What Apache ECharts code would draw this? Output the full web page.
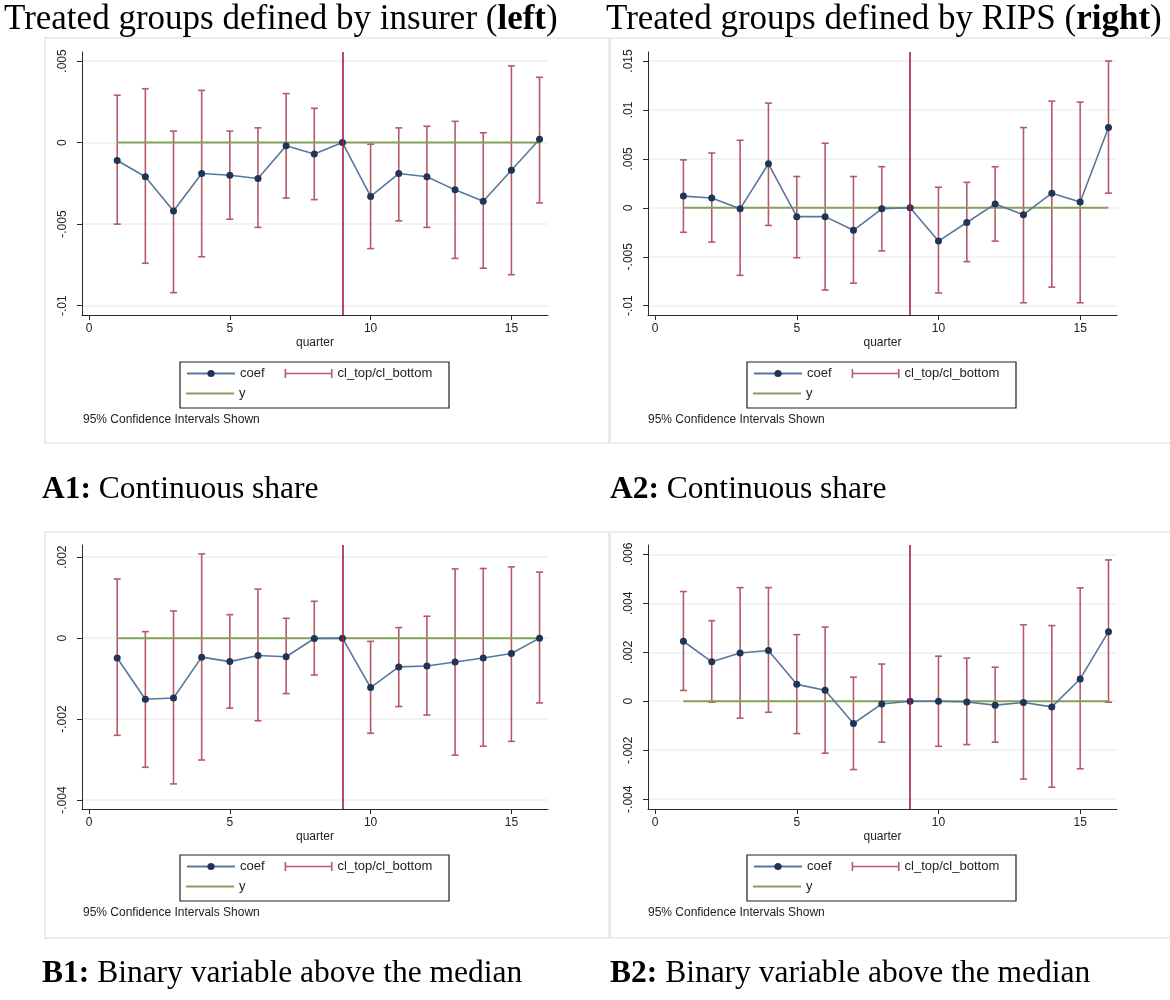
<!DOCTYPE html>
<html>
<head>
<meta charset="utf-8">
<script src="https://cdn.jsdelivr.net/npm/echarts@6/dist/echarts.min.js"></script>
<style>
  html, body { margin: 0; padding: 0; background: #ffffff; }
  #chart { width: 1170px; height: 1000px; }
</style>
</head>
<body>
<div id="chart"></div>
<script>
// Event-study coefficients by quarter, with 95% confidence bounds (quarter 9 is the reference period)
const quarters = [1, 2, 3, 4, 5, 6, 7, 8, 9, 10, 11, 12, 13, 14, 15, 16];
const yZero = [0, 0, 0, 0, 0, 0, 0, 0, 0, 0, 0, 0, 0, 0, 0, 0];
const eventQuarter = 9;

// A1: continuous share, treated groups defined by insurer
const a1Coef   = [-0.0011, -0.0021, -0.0042, -0.0019, -0.0020, -0.0022, -0.0002, -0.0007, 0, -0.0033, -0.0019, -0.0021, -0.0029, -0.0036, -0.0017, 0.0002];
const a1Top    = [0.0029, 0.0033, 0.0007, 0.0032, 0.0007, 0.0009, 0.0030, 0.0021, null, -0.0001, 0.0009, 0.0010, 0.0013, 0.0006, 0.0047, 0.0040];
const a1Bottom = [-0.0050, -0.0074, -0.0092, -0.0070, -0.0047, -0.0052, -0.0034, -0.0035, null, -0.0065, -0.0048, -0.0052, -0.0071, -0.0077, -0.0081, -0.0037];

// A2: continuous share, treated groups defined by RIPS
const a2Coef   = [0.0012, 0.0010, -0.0001, 0.0045, -0.0009, -0.0009, -0.0023, -0.0001, 0, -0.0034, -0.0015, 0.0004, -0.0007, 0.0015, 0.0006, 0.0082];
const a2Top    = [0.0049, 0.0056, 0.0069, 0.0107, 0.0032, 0.0066, 0.0032, 0.0042, null, 0.0021, 0.0026, 0.0042, 0.0082, 0.0109, 0.0108, 0.0150];
const a2Bottom = [-0.0025, -0.0035, -0.0069, -0.0018, -0.0051, -0.0084, -0.0077, -0.0044, null, -0.0087, -0.0055, -0.0034, -0.0097, -0.0081, -0.0097, 0.0015];

// B1: binary variable above the median, insurer
const b1Coef   = [-0.00049, -0.00151, -0.00148, -0.00047, -0.00058, -0.00043, -0.00046, -0.00001, 0, -0.00122, -0.00071, -0.00069, -0.00059, -0.00049, -0.00038, 0];
const b1Top    = [0.00146, 0.00016, 0.00067, 0.00208, 0.00058, 0.00121, 0.00049, 0.00091, null, -0.00008, 0.00026, 0.00054, 0.00171, 0.00172, 0.00176, 0.00163];
const b1Bottom = [-0.00240, -0.00319, -0.00360, -0.00301, -0.00173, -0.00204, -0.00137, -0.00091, null, -0.00235, -0.00169, -0.00190, -0.00289, -0.00267, -0.00255, -0.00160];

// B2: binary variable above the median, RIPS
const b2Coef   = [0.00245, 0.00161, 0.00197, 0.00207, 0.00069, 0.00045, -0.00091, -0.00011, 0, 0, -0.00003, -0.00016, -0.00005, -0.00023, 0.00091, 0.00284];
const b2Top    = [0.00448, 0.00329, 0.00464, 0.00464, 0.00272, 0.00303, 0.00098, 0.00152, null, 0.00184, 0.00176, 0.00139, 0.00312, 0.00309, 0.00463, 0.00577];
const b2Bottom = [0.00044, -0.00004, -0.00069, -0.00045, -0.00132, -0.00212, -0.00279, -0.00167, null, -0.00184, -0.00177, -0.00167, -0.00318, -0.00351, -0.00276, -0.00004];

// Axis ticks and their printed labels
const xTicks = [0, 5, 10, 15];
const xTickLabels = ['0', '5', '10', '15'];
const a1YTicks = [-0.01, -0.005, 0, 0.005];
const a1YLabels = ['-.01', '-.005', '0', '.005'];
const a2YTicks = [-0.01, -0.005, 0, 0.005, 0.01, 0.015];
const a2YLabels = ['-.01', '-.005', '0', '.005', '.01', '.015'];
const b1YTicks = [-0.004, -0.002, 0, 0.002];
const b1YLabels = ['-.004', '-.002', '0', '.002'];
const b2YTicks = [-0.004, -0.002, 0, 0.002, 0.004, 0.006];
const b2YLabels = ['-.004', '-.002', '0', '.002', '.004', '.006'];

// Titles and captions
const headLeft = ['Treated groups defined by insurer (', 'left', ')'];
const headRight = ['Treated groups defined by RIPS (', 'right', ')'];
const captions = [
  ['A1:', ' Continuous share'],
  ['A2:', ' Continuous share'],
  ['B1:', ' Binary variable above the median'],
  ['B2:', ' Binary variable above the median']
];
const noteText = '95% Confidence Intervals Shown';
const legendNames = ['coef', 'cl_top/cl_bottom', 'y'];

// ---- styling ----
const SANS = '"Liberation Sans", Arial, sans-serif';
const SERIF = '"Liberation Serif", "Times New Roman", serif';
const COEF_LINE = '#58779a';
const COEF_DOT = '#1f3558';
const CI_COLOR = '#b65a66';
const ZERO_COLOR = '#85a05c';
const EVENT_COLOR = '#a81c48';
const AXIS_COLOR = '#2a2a2a';
const GRID_COLOR = '#edf1f3';

// Panel layout: plot area, y range, legend and frame positions
const panels = [
  { coef: a1Coef, top: a1Top, bottom: a1Bottom, yTicks: a1YTicks, yLabels: a1YLabels,
    yMin: -0.01057, yMax: 0.00555, grid: { left: 82, top: 52, width: 466, height: 263 },
    frame: [45, 38, 564, 405], legend: [180, 362], note: [83, 414] },
  { coef: a2Coef, top: a2Top, bottom: a2Bottom, yTicks: a2YTicks, yLabels: a2YLabels,
    yMin: -0.01095, yMax: 0.01592, grid: { left: 648, top: 52, width: 469, height: 263 },
    frame: [610, 38, 562, 405], legend: [747, 362], note: [648, 414] },
  { coef: b1Coef, top: b1Top, bottom: b1Bottom, yTicks: b1YTicks, yLabels: b1YLabels,
    yMin: -0.00422, yMax: 0.0023, grid: { left: 82, top: 545, width: 466, height: 264 },
    frame: [45, 532, 564, 406], legend: [180, 855], note: [83, 907] },
  { coef: b2Coef, top: b2Top, bottom: b2Bottom, yTicks: b2YTicks, yLabels: b2YLabels,
    yMin: -0.0044, yMax: 0.00638, grid: { left: 648, top: 545, width: 469, height: 264 },
    frame: [610, 532, 562, 406], legend: [747, 855], note: [648, 907] }
];

function tickLabel(ticks, labels) {
  return function (v) {
    for (let i = 0; i < ticks.length; i++) {
      if (Math.abs(ticks[i] - v) < 1e-9) return labels[i];
    }
    return '';
  };
}

// Range cap (rcap): vertical whisker with horizontal caps at both ends
function renderCap(params, api) {
  const x = api.value(0);
  const hi = api.coord([x, api.value(1)]);
  const lo = api.coord([x, api.value(2)]);
  const half = 3.5;
  const style = { stroke: CI_COLOR, lineWidth: 1.6, fill: null };
  return {
    type: 'group',
    children: [
      { type: 'line', shape: { x1: hi[0], y1: hi[1], x2: lo[0], y2: lo[1] }, style: style },
      { type: 'line', shape: { x1: hi[0] - half, y1: hi[1], x2: hi[0] + half, y2: hi[1] }, style: style },
      { type: 'line', shape: { x1: lo[0] - half, y1: lo[1], x2: lo[0] + half, y2: lo[1] }, style: style }
    ]
  };
}

const legendText = { fontFamily: SANS, fontSize: 13, color: '#222' };
const CI_ICON = 'path://M0,0h1.6v9h-1.6z M0,3.7h48v1.6h-48z M46.4,0h1.6v9h-1.6z';
const ZERO_ICON = 'path://M0,3.5h48v2h-48z';

const grids = [], xAxes = [], yAxes = [], series = [], legends = [], graphics = [];

panels.forEach(function (p, i) {
  grids.push(Object.assign({ containLabel: false }, p.grid));

  xAxes.push({
    type: 'value', gridIndex: i, min: -0.25, max: 16.3,
    name: 'quarter', nameLocation: 'middle', nameGap: 22,
    nameTextStyle: { fontFamily: SANS, fontSize: 12, color: '#222' },
    axisLine: { show: true, onZero: false, lineStyle: { color: AXIS_COLOR, width: 1 } },
    axisTick: { show: true, length: 5, customValues: xTicks, lineStyle: { color: AXIS_COLOR } },
    axisLabel: { customValues: xTicks, margin: 8, fontFamily: SANS, fontSize: 12, color: '#222',
                 formatter: tickLabel(xTicks, xTickLabels) },
    splitLine: { show: false }
  });

  yAxes.push({
    type: 'value', gridIndex: i, min: p.yMin, max: p.yMax,
    axisLine: { show: true, onZero: false, lineStyle: { color: AXIS_COLOR, width: 1 } },
    axisTick: { show: true, length: 5, customValues: p.yTicks, lineStyle: { color: AXIS_COLOR } },
    axisLabel: { customValues: p.yTicks, rotate: 90, margin: 13, fontFamily: SANS, fontSize: 12, color: '#222',
                 formatter: tickLabel(p.yTicks, p.yLabels) },
    splitLine: { show: true, lineStyle: { color: GRID_COLOR, width: 1.5 } }
  });

  // confidence interval caps
  const ciData = [];
  quarters.forEach(function (q, k) {
    if (p.top[k] !== null && p.bottom[k] !== null) ciData.push([q, p.top[k], p.bottom[k]]);
  });
  series.push({
    name: legendNames[1], type: 'custom', xAxisIndex: i, yAxisIndex: i,
    renderItem: renderCap, data: ciData, encode: { x: 0, y: [1, 2] },
    itemStyle: { color: CI_COLOR }, z: 2, silent: true
  });

  // zero reference line, plus the event-quarter marker
  series.push({
    name: legendNames[2], type: 'line', xAxisIndex: i, yAxisIndex: i,
    data: quarters.map(function (q, k) { return [q, yZero[k]]; }),
    symbol: 'none', lineStyle: { color: ZERO_COLOR, width: 2 }, itemStyle: { color: ZERO_COLOR },
    z: 3, silent: true,
    markLine: {
      silent: true, symbol: 'none', label: { show: false },
      lineStyle: { color: EVENT_COLOR, width: 1.6, type: 'solid' },
      data: [{ xAxis: eventQuarter }]
    }
  });

  // point estimates
  series.push({
    name: legendNames[0], type: 'line', xAxisIndex: i, yAxisIndex: i,
    data: quarters.map(function (q, k) { return [q, p.coef[k]]; }),
    symbol: 'circle', symbolSize: 7, showSymbol: true,
    lineStyle: { color: COEF_LINE, width: 1.6 }, itemStyle: { color: COEF_DOT },
    z: 4, silent: true
  });

  // legend: two rows inside a framed box
  legends.push({
    left: p.legend[0] + 6, top: p.legend[1] + 5, orient: 'horizontal',
    padding: 0, itemGap: 20, itemWidth: 48, itemHeight: 9, selectedMode: false,
    textStyle: legendText,
    data: [{ name: legendNames[0] }, { name: legendNames[1], icon: CI_ICON }]
  });
  legends.push({
    left: p.legend[0] + 6, top: p.legend[1] + 25, orient: 'horizontal',
    padding: 0, itemGap: 20, itemWidth: 48, itemHeight: 9, selectedMode: false,
    textStyle: legendText,
    data: [{ name: legendNames[2], icon: ZERO_ICON }]
  });
  graphics.push({
    type: 'rect', silent: true,
    shape: { x: p.legend[0], y: p.legend[1], width: 269, height: 46 },
    style: { fill: null, stroke: '#1e1e1e', lineWidth: 1.2 }
  });

  // panel frame
  graphics.push({
    type: 'rect', z: -1, silent: true,
    shape: { x: p.frame[0], y: p.frame[1], width: p.frame[2], height: p.frame[3] },
    style: { fill: null, stroke: '#e3e8ec', lineWidth: 1.5 }
  });
  // footnote
  graphics.push({
    type: 'text', left: p.note[0], top: p.note[1], silent: true,
    style: { text: noteText, fontFamily: SANS, fontSize: 12, fill: '#222' }
  });
});

const richSerif = {
  n: { fontFamily: SERIF, fontSize: 35, color: '#000', fontWeight: 'normal' },
  b: { fontFamily: SERIF, fontSize: 35, color: '#000', fontWeight: 'bold' },
  cn: { fontFamily: SERIF, fontSize: 31.5, color: '#000', fontWeight: 'normal' },
  cb: { fontFamily: SERIF, fontSize: 31.5, color: '#000', fontWeight: 'bold' }
};

const titles = [
  { left: 4, top: 2, text: '{n|' + headLeft[0] + '}{b|' + headLeft[1] + '}{n|' + headLeft[2] + '}' },
  { left: 606, top: 2, text: '{n|' + headRight[0] + '}{b|' + headRight[1] + '}{n|' + headRight[2] + '}' },
  { left: 42, top: 474, text: '{cb|' + captions[0][0] + '}{cn|' + captions[0][1] + '}' },
  { left: 610, top: 474, text: '{cb|' + captions[1][0] + '}{cn|' + captions[1][1] + '}' },
  { left: 42, top: 958, text: '{cb|' + captions[2][0] + '}{cn|' + captions[2][1] + '}' },
  { left: 610, top: 958, text: '{cb|' + captions[3][0] + '}{cn|' + captions[3][1] + '}' }
].map(function (t) {
  return { left: t.left, top: t.top, text: t.text, padding: 0,
           textStyle: { fontWeight: 'normal', rich: richSerif } };
});

const chart = echarts.init(document.getElementById('chart'), null, { renderer: 'canvas' });
chart.setOption({
  animation: false,
  backgroundColor: '#ffffff',
  title: titles,
  grid: grids,
  xAxis: xAxes,
  yAxis: yAxes,
  legend: legends,
  graphic: graphics,
  series: series
});
</script>
</body>
</html>
